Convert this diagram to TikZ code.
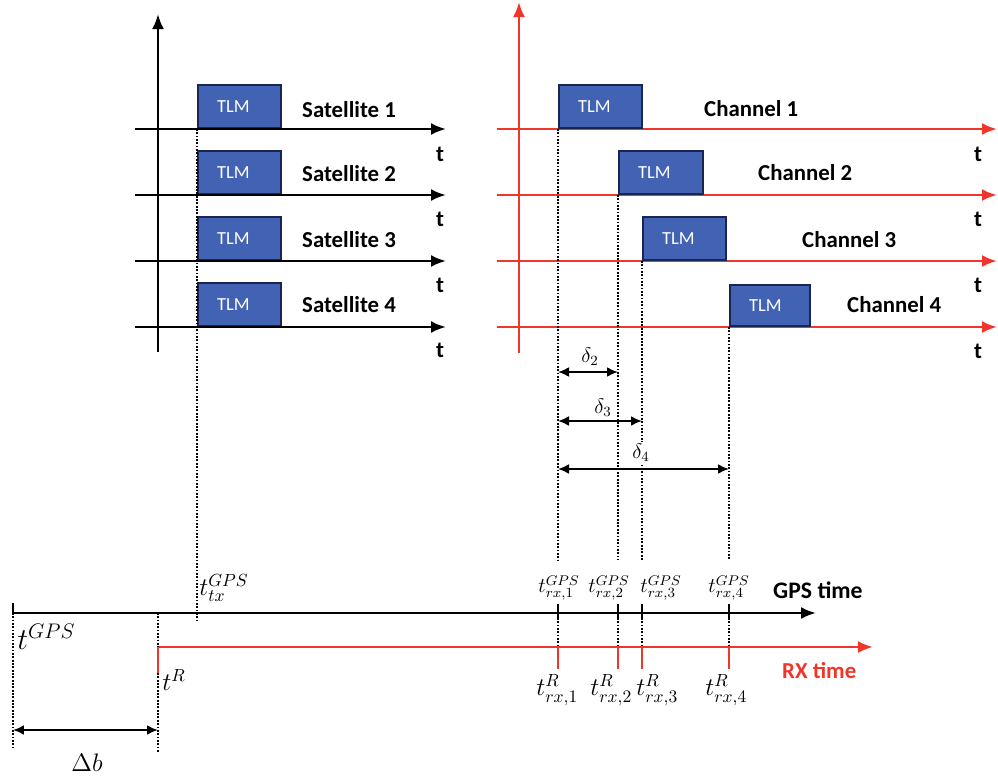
\documentclass[tikz,border=0pt]{standalone}
\usepackage{fontspec}
\setsansfont{Carlito}
\usepackage{tikz}
\usetikzlibrary{positioning,arrows.meta}
\definecolor{TLMBlue}{HTML}{4262B4}
\definecolor{TLMEdge}{HTML}{1A2550}
\definecolor{RXRed}{HTML}{F2352B}

\begin{document}
\begin{tikzpicture}[
    x=0.02cm, y=-0.02cm,
    tlmbox/.style={
      draw=TLMEdge,
      fill=TLMBlue,
      line width=1.3pt,
      minimum height=0.86cm,
      text width=0.9cm,
      inner xsep=0.38cm,
      inner ysep=0pt,
      align=left,
      text=white,
      anchor=south west,
      font=\sffamily\fontsize{10.5}{12}\selectfont
    },
    satlabel/.style={
      anchor=west,
      font=\sffamily\bfseries\fontsize{13}{15}\selectfont
    },
    tlabel/.style={
      font=\sffamily\bfseries\fontsize{13}{15}\selectfont
    },
    mathlabel/.style={
      anchor=west,
      inner sep=0pt,
      font=\large
    },
    axisarrow/.style={
      -{Latex[length=3mm,width=2.4mm]},
      line width=1.4pt
    },
    redaxis/.style={
      axisarrow,
      RXRed
    },
    dropline/.style={
      line width=1.3pt,
      dash pattern=on 1pt off 0.9pt
    },
    spanarrow/.style={
      {Latex[length=2.2mm,width=2mm]}-{Latex[length=2.2mm,width=2mm]},
      line width=1.2pt
    }
  ]

  \useasboundingbox (0,0) rectangle (998,778);

  % satellite side
  \coordinate (satY0) at (158,352);
  \coordinate (satY1) at (158,14);
  \coordinate (sat1L) at (135,129);
  \coordinate (sat1R) at (446,129);
  \coordinate (sat2L) at (135,195);
  \coordinate (sat2R) at (446,195);
  \coordinate (sat3L) at (135,261);
  \coordinate (sat3R) at (446,261);
  \coordinate (sat4L) at (135,327);
  \coordinate (sat4R) at (446,327);

  \node[tlmbox] (tlmS1) at (197,129) {TLM};
  \node[tlmbox] (tlmS2) at (197,195) {TLM};
  \node[tlmbox] (tlmS3) at (197,261) {TLM};
  \node[tlmbox] (tlmS4) at (197,327) {TLM};

  \draw[axisarrow] (satY0) -- (satY1);
  \draw[axisarrow] (sat1L) -- (sat1R);
  \draw[axisarrow] (sat2L) -- (sat2R);
  \draw[axisarrow] (sat3L) -- (sat3R);
  \draw[axisarrow] (sat4L) -- (sat4R);

  \node[satlabel] (satName1) at (296,110) {Satellite 1};
  \node[satlabel] (satName2) at (296,174) {Satellite 2};
  \node[satlabel] (satName3) at (296,240) {Satellite 3};
  \node[satlabel] (satName4) at (296,305) {Satellite 4};

  \node[tlabel] (satT1) at (440,154) {t};
  \node[tlabel] (satT2) at (440,219) {t};
  \node[tlabel] (satT3) at (440,285) {t};
  \node[tlabel] (satT4) at (440,350) {t};

  % receiver channels
  \coordinate (chY0) at (519,353);
  \coordinate (chY1) at (519,2);
  \coordinate (ch1L) at (497,129);
  \coordinate (ch1R) at (997,129);
  \coordinate (ch2L) at (497,195);
  \coordinate (ch2R) at (997,195);
  \coordinate (ch3L) at (497,261);
  \coordinate (ch3R) at (997,261);
  \coordinate (ch4L) at (497,327);
  \coordinate (ch4R) at (997,327);

  \draw[redaxis] (chY0) -- (chY1);
  \draw[redaxis] (ch1L) -- (ch1R);
  \draw[redaxis] (ch2L) -- (ch2R);
  \draw[redaxis] (ch3L) -- (ch3R);
  \draw[redaxis] (ch4L) -- (ch4R);

  \node[tlmbox] (tlmC1) at (558,129) {TLM};
  \node[tlmbox, text width=0.92cm] (tlmC2) at (618,195) {TLM};
  \node[tlmbox] (tlmC3) at (642,261) {TLM};
  \node[tlmbox, text width=0.84cm, minimum height=0.82cm] (tlmC4) at (729,327) {TLM};

  \node[satlabel] (chName1) at (698,109) {Channel 1};
  \node[satlabel] (chName2) at (752,173) {Channel 2};
  \node[satlabel] (chName3) at (796,240) {Channel 3};
  \node[satlabel] (chName4) at (841,305) {Channel 4};

  \node[tlabel] (chT1) at (978,154) {t};
  \node[tlabel] (chT2) at (978,219) {t};
  \node[tlabel] (chT3) at (978,285) {t};
  \node[tlabel] (chT4) at (978,351) {t};

  % drop lines to the time axes
  \coordinate (txEnd) at (197,623);
  \coordinate (rx1End) at (558,560);
  \coordinate (rx2End) at (618,560);
  \coordinate (rx3End) at (642,560);
  \coordinate (rx4End) at (729,560);
  \draw[dropline] (tlmS1.south west) -- (txEnd);
  \draw[dropline] (tlmC1.south west) -- (rx1End);
  \draw[dropline] (tlmC2.south west) -- (rx2End);
  \draw[dropline] (tlmC3.south west) -- (rx3End);
  \draw[dropline] (tlmC4.south west) -- (rx4End);

  % delays
  \node[font=\large] (delta2) at (590,357) {$\delta_2$};
  \node[font=\large] (delta3) at (603,408) {$\delta_3$};
  \node[font=\large, fill=white, inner sep=1pt] (delta4) at (641,453) {$\delta_4$};
  \coordinate (d2L) at (558,372);
  \coordinate (d2R) at (618,372);
  \coordinate (d3L) at (558,421);
  \coordinate (d3R) at (642,421);
  \coordinate (d4L) at (558,469);
  \coordinate (d4R) at (729,469);
  \draw[spanarrow] (d2L) -- (d2R);
  \draw[spanarrow] (d3L) -- (d3R);
  \draw[spanarrow] (d4L) -- (d4R);

  % GPS time and RX time
  \coordinate (gpsL) at (13,613);
  \coordinate (gpsR) at (816,613);
  \coordinate (rxL) at (158,647);
  \coordinate (rxR) at (873,647);
  \draw[axisarrow] (gpsL) -- (gpsR);
  \draw[redaxis] (rxL) -- (rxR);

  \node[tlabel, anchor=west, font=\sffamily\bfseries\fontsize{13.5}{15}\selectfont] (gpsName) at (767,590) {GPS time};
  \node[tlabel, anchor=west, text=RXRed] (rxName) at (776,671) {RX time};

  \draw[line width=1.3pt] (13,603) -- (13,613);
  \draw[dropline] (13,613) -- (13,748);
  \draw[dropline] (158,613) -- (158,752);
  \draw[RXRed, line width=1.3pt] (158,647) -- (158,673);
  \foreach \xx in {558,618,642,729} {
    \draw[line width=1.3pt] (\xx,604) -- (\xx,618);
    \draw[dropline] (\xx,618) -- (\xx,647);
    \draw[RXRed, line width=1.3pt] (\xx,647) -- (\xx,669);
  }

  \node[mathlabel, font=\LARGE] (tGPS) at (17,637) {$t^{GPS}$};
  \node[mathlabel, font=\Large] (tR) at (162,680) {$t^{R}$};
  \node[mathlabel, font=\Large] (tTx) at (199,588) {$t_{tx}^{GPS}$};

  \node[mathlabel] (tG1) at (538,588) {$t_{rx,1}^{GPS}$};
  \node[mathlabel] (tG2) at (588,588) {$t_{rx,2}^{GPS}$};
  \node[mathlabel] (tG3) at (640,588) {$t_{rx,3}^{GPS}$};
  \node[mathlabel] (tG4) at (708,588) {$t_{rx,4}^{GPS}$};

  \node[mathlabel, font=\Large] (tR1) at (536,690) {$t_{rx,1}^{R}$};
  \node[mathlabel, font=\Large] (tR2) at (590,690) {$t_{rx,2}^{R}$};
  \node[mathlabel, font=\Large] (tR3) at (636,690) {$t_{rx,3}^{R}$};
  \node[mathlabel, font=\Large] (tR4) at (705,690) {$t_{rx,4}^{R}$};

  % offset between the clocks
  \coordinate (dbL) at (13,730);
  \coordinate (dbR) at (158,730);
  \draw[spanarrow] (dbL) -- (dbR);
  \node[font=\Large] (deltaB) at (87,763) {$\Delta b$};

\end{tikzpicture}
\end{document}
